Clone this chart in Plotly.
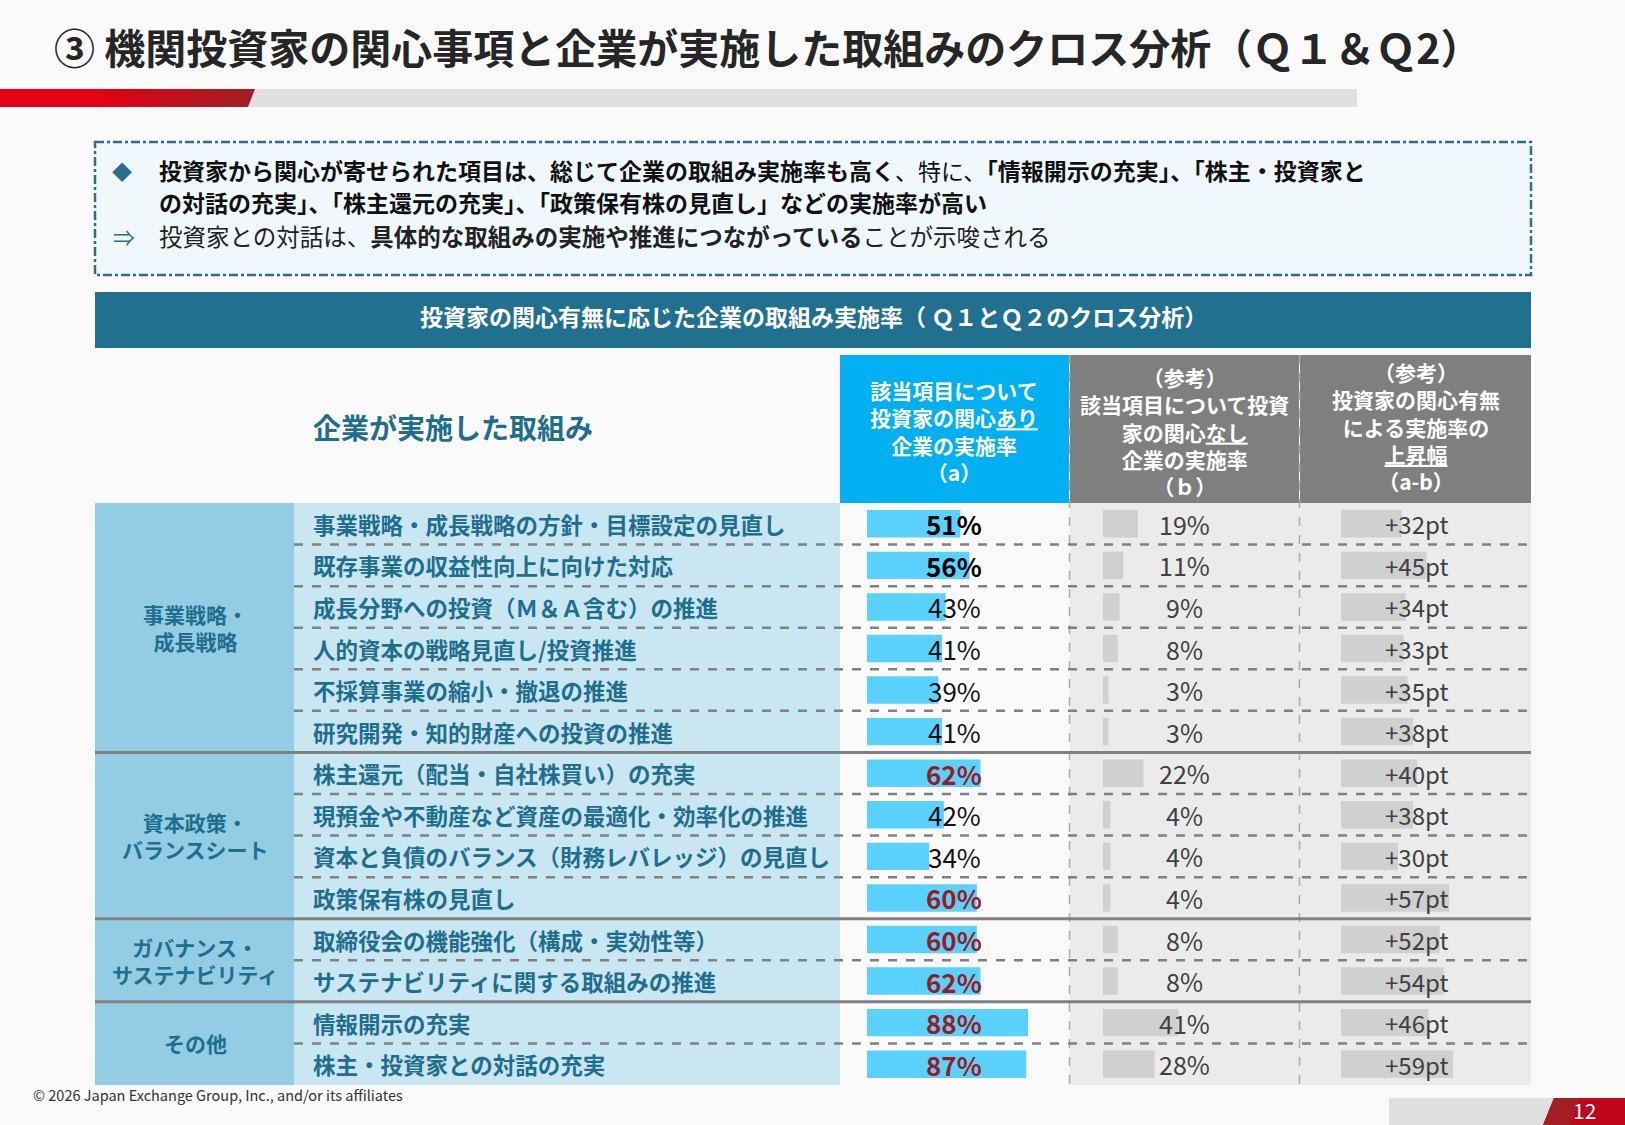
import plotly.graph_objects as go

W, H = 1625, 1125

# ---- data ----
group_names = ["事業戦略・<br>成長戦略", "資本政策・<br>バランスシート",
               "ガバナンス・<br>サステナビリティ", "その他"]
group_sizes = [6, 4, 2, 2]
items = [
    "事業戦略・成長戦略の方針・目標設定の見直し",
    "既存事業の収益性向上に向けた対応",
    "成長分野への投資（Ｍ＆Ａ含む）の推進",
    "人的資本の戦略見直し/投資推進",
    "不採算事業の縮小・撤退の推進",
    "研究開発・知的財産への投資の推進",
    "株主還元（配当・自社株買い）の充実",
    "現預金や不動産など資産の最適化・効率化の推進",
    "資本と負債のバランス（財務レバレッジ）の見直し",
    "政策保有株の見直し",
    "取締役会の機能強化（構成・実効性等）",
    "サステナビリティに関する取組みの推進",
    "情報開示の充実",
    "株主・投資家との対話の充実",
]
rate_with = [51, 56, 43, 41, 39, 41, 62, 42, 34, 60, 60, 62, 88, 87]
rate_without = [19, 11, 9, 8, 3, 3, 22, 4, 4, 4, 8, 8, 41, 28]
rate_gap = [32, 45, 34, 33, 35, 38, 40, 38, 30, 57, 52, 54, 46, 59]

rows = list(range(len(items)))

TEAL = "#1F6E8E"
FONT = "Noto Sans CJK JP"


def px(x):
    return x / W


def py(y):
    return 1 - y / H


# table rows run from y=503 to y=1085 px
ROW_TOP, ROW_BOT = 503, 1085

fig = go.Figure()

fig.add_trace(go.Bar(y=rows, x=rate_with, orientation="h", width=0.66,
                     marker=dict(color="#5AD2FF", line_width=0),
                     xaxis="x", yaxis="y", hoverinfo="skip"))
fig.add_trace(go.Bar(y=rows, x=rate_without, orientation="h", width=0.66,
                     marker=dict(color="#D0D0D0", line_width=0),
                     xaxis="x2", yaxis="y", hoverinfo="skip"))
fig.add_trace(go.Bar(y=rows, x=rate_gap, orientation="h", width=0.66,
                     marker=dict(color="#D0D0D0", line_width=0),
                     xaxis="x3", yaxis="y", hoverinfo="skip"))

shapes = []


def prect(x0, y0, x1, y1, color, **kw):
    shapes.append(dict(type="rect", xref="paper", yref="paper",
                       x0=px(x0), x1=px(x1), y0=py(y0), y1=py(y1),
                       fillcolor=color, line_width=0, layer="below", **kw))


# top red / gray band
shapes.append(dict(type="path", xref="paper", yref="paper",
                   path=f"M {px(255)} {py(89)} L {px(1357)} {py(89)} L {px(1357)} {py(107)} L {px(248)} {py(107)} Z",
                   fillcolor="#E0E0E0", line_width=0, layer="below"))
shapes.append(dict(type="path", xref="paper", yref="paper",
                   path=f"M 0 {py(89)} L {px(255)} {py(89)} L {px(248)} {py(107)} L 0 {py(107)} Z",
                   fillcolor="#A31D24", line_width=0, layer="below"))
c0, c1 = (230, 0, 18), (163, 29, 36)
for k in range(24):
    t = max(0, (k * 10 - 90) / 150)
    col = "rgb({},{},{})".format(*[int(a + (b - a) * t) for a, b in zip(c0, c1)])
    prect(k * 10, 89, k * 10 + 10.5, 107, col)

# summary box
shapes.append(dict(type="rect", xref="paper", yref="paper",
                   x0=px(95), x1=px(1531), y0=py(142), y1=py(275),
                   fillcolor="#F1F8FC", line=dict(color="#2D6E8D", width=2.5, dash="dashdot"),
                   layer="below"))

# header bar
prect(95, 292, 1531, 348, "#21708F")

# column headers
prect(840, 355, 1069, ROW_TOP, "#00B0F0")
prect(1070, 355, 1299, ROW_TOP, "#7F7F7F")
prect(1300, 355, 1531, ROW_TOP, "#7F7F7F")


def drect(x0, x1, color):
    shapes.append(dict(type="rect", xref="paper", yref="y",
                       x0=px(x0), x1=px(x1), y0=-0.5, y1=len(items) - 0.5,
                       fillcolor=color, line_width=0, layer="below"))


drect(95, 294, "#93CDE4")
drect(294, 840, "#C9E7F2")
drect(840, 1070, "#FAFAFA")
drect(1070, 1531, "#EBEBEB")

# vertical dashed lines
for xv in (1069.5, 1299.5):
    shapes.append(dict(type="line", xref="paper", yref="paper",
                       x0=px(xv), x1=px(xv), y0=py(355), y1=py(ROW_BOT),
                       line=dict(color="#ABABAB", width=1.5, dash="dash"), layer="above"))

# row separators
bounds = []
acc = 0
for s in group_sizes[:-1]:
    acc += s
    bounds.append(acc - 0.5)
for i in range(len(items) - 1):
    b = i + 0.5
    if b in bounds:
        shapes.append(dict(type="line", xref="paper", yref="y", x0=px(95), x1=px(1531),
                           y0=b, y1=b, line=dict(color="#808080", width=3), layer="above"))
    else:
        shapes.append(dict(type="line", xref="paper", yref="y", x0=px(294), x1=px(1531),
                           y0=b, y1=b, line=dict(color="#808080", width=2.5, dash="dash"),
                           layer="above"))

# page number box
prect(1389, 1098, 1560, 1125, "#E0E0E0")
shapes.append(dict(type="path", xref="paper", yref="paper",
                   path=f"M {px(1554)} {py(1098)} L 1 {py(1098)} L 1 0 L {px(1543)} 0 Z",
                   fillcolor="#C0061B", line_width=0, layer="below"))
shapes.append(dict(type="path", xref="paper", yref="paper",
                   path=f"M {px(1554)} {py(1098)} L {px(1580)} {py(1098)} L {px(1570)} 0 L {px(1543)} 0 Z",
                   fillcolor="#A31D24", line_width=0, layer="below"))

ann = []


def note(x, y, text, size, color, xanchor="left", yref="paper", **kw):
    ann.append(dict(x=px(x), y=(py(y) if yref == "paper" else y), xref="paper", yref=yref,
                    text=text, showarrow=False, xanchor=xanchor, yanchor="middle",
                    font=dict(size=size, color=color, family=FONT), **kw))


note(52, 46, "<b>③ 機関投資家の関心事項と企業が実施した取組みのクロス分析（Ｑ１＆Ｑ2）</b>", 41, "#262626")

note(122, 171, "◆", 20, "#2D6E8D", xanchor="center")
note(157, 170, "<b>投資家から関心が寄せられた項目は、総じて企業の取組み実施率も高く</b>、特に、"
     "<b>「情報開示の充実」、「株主・投資家と</b>", 23, "#111111")
note(157, 202, "<b>の対話の充実」、「株主還元の充実」、「政策保有株の見直し」などの実施率が高い</b>",
     23, "#111111")
note(124, 236, "⇒", 22, "#2D6E8D", xanchor="center")
note(157, 236, "投資家との対話は、<b>具体的な取組みの実施や推進につながっている</b>ことが示唆される",
     23.5, "#222222")

note(813, 316, "<b>投資家の関心有無に応じた企業の取組み実施率（ Ｑ１とＱ２のクロス分析）</b>", 23,
     "white", xanchor="center")

note(311, 427, "<b>企業が実施した取組み</b>", 28, TEAL)
note(954, 431, "<b>該当項目について<br>投資家の関心<u>あり</u><br>企業の実施率<br>（a）</b>", 21,
     "white", xanchor="center")
note(1184, 431, "<b>（参考）<br>該当項目について投資<br>家の関心<u>なし</u><br>企業の実施率<br>（ｂ）</b>", 21,
     "white", xanchor="center")
note(1416, 426, "<b>（参考）<br>投資家の関心有無<br>による実施率の<br><u>上昇幅</u><br>（a-b）</b>", 21,
     "white", xanchor="center")

# group labels
start = 0
for g, s in zip(group_names, group_sizes):
    note(195, start + (s - 1) / 2, f"<b>{g}</b>", 21, TEAL, xanchor="center", yref="y")
    start += s

for i, name in enumerate(items):
    note(311, i, f"<b>{name}</b>", 22.5, TEAL, yref="y")
    v = rate_with[i]
    if v >= 60:
        txt, col = f"<b>{v}%</b>", "#9B1B1F"
    elif v >= 50:
        txt, col = f"<b>{v}%</b>", "#000000"
    else:
        txt, col = f"{v}%", "#111111"
    note(954, i, txt, 26, col, xanchor="center", yref="y")
    note(1184, i, f"{rate_without[i]}%", 25, "#404040", xanchor="center", yref="y")
    note(1416, i, f"+{rate_gap[i]}pt", 24, "#404040", xanchor="center", yref="y")

note(31, 1094, "© 2026 Japan Exchange Group, Inc., and/or its affiliates", 14.5, "#333333")
note(1584, 1110, "12", 21, "white", xanchor="center")

hidden = dict(visible=False, fixedrange=True)
fig.update_layout(
    width=W, height=H,
    margin=dict(l=0, r=0, t=0, b=0),
    paper_bgcolor="#FAFAFA",
    plot_bgcolor="rgba(0,0,0,0)",
    showlegend=False,
    font=dict(family=FONT),
    xaxis=dict(domain=[px(867), px(1068)], range=[0, 201 / 1.83], anchor="y", **hidden),
    xaxis2=dict(domain=[px(1103), px(1298)], range=[0, 195 / 1.84], anchor="y", **hidden),
    xaxis3=dict(domain=[px(1341), px(1530)], range=[0, 189 / 1.9], anchor="y", **hidden),
    yaxis=dict(domain=[py(ROW_BOT), py(ROW_TOP)], range=[len(items) - 0.5, -0.5], **hidden),
    shapes=shapes,
    annotations=ann,
)

fig.write_html("out.html", config={"displayModeBar": False},
               post_script="document.body.style.margin='0px';")
